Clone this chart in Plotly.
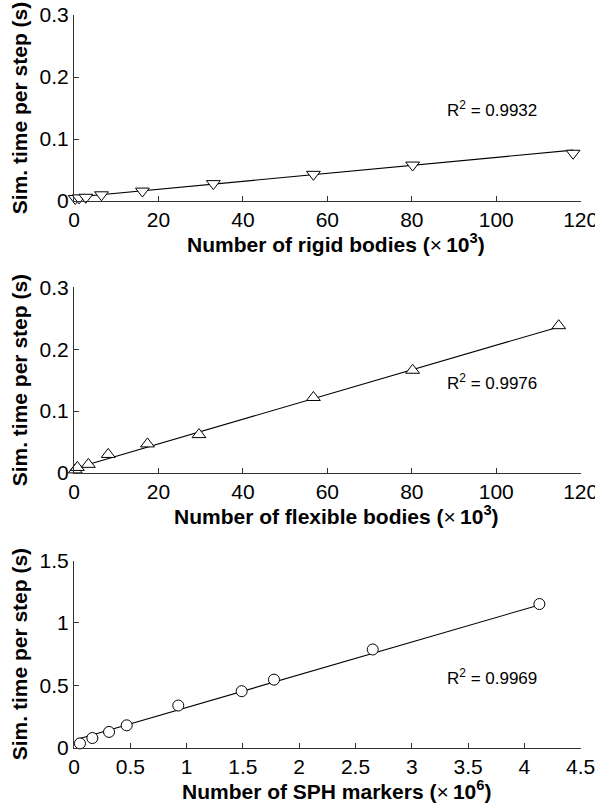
import plotly.graph_objects as go

# ---- data ----
rigid_x = [0.3, 1.2, 2.8, 6.5, 16.2, 33.0, 56.7, 80.2, 118.2]
rigid_y = [0.004, 0.005, 0.006, 0.010, 0.016, 0.028, 0.043, 0.058, 0.077]
rigid_fit_x = [0.0, 118.2]
rigid_fit_y = [0.006, 0.082]
rigid_r2 = "0.9932"

flex_x = [0.3, 0.8, 3.4, 8.1, 17.4, 29.6, 56.7, 80.2, 114.8]
flex_y = [0.005, 0.009, 0.014, 0.030, 0.047, 0.062, 0.122, 0.166, 0.238]
flex_fit_x = [0.5, 114.8]
flex_fit_y = [0.008, 0.236]
flex_r2 = "0.9976"

sph_x = [0.053, 0.163, 0.311, 0.468, 0.926, 1.489, 1.776, 2.653, 4.133]
sph_y = [0.033, 0.076, 0.125, 0.178, 0.337, 0.452, 0.545, 0.787, 1.152]
sph_fit_x = [0.053, 4.133]
sph_fit_y = [0.072, 1.145]
sph_r2 = "0.9969"

x_ticks_bodies = [0, 20, 40, 60, 80, 100, 120]
x_ticks_sph = [0, 0.5, 1, 1.5, 2, 2.5, 3, 3.5, 4, 4.5]
x_ticklabels_sph = ["0", "0.5", "1", "1.5", "2", "2.5", "3", "3.5", "4", "4.5"]
y_ticks_small = [0, 0.1, 0.2, 0.3]
y_ticklabels_small = ["0", "0.1", "0.2", "0.3"]
y_ticks_sph = [0, 0.5, 1, 1.5]
y_ticklabels_sph = ["0", "0.5", "1", "1.5"]

y_title = "<b>Sim. time per step (s)</b>"
x_titles = [
    "<b>Number of rigid bodies (</b>×\u2009<b>10<sup>3</sup>)</b>",
    "<b>Number of flexible bodies (</b>×\u2009<b>10<sup>3</sup>)</b>",
    "<b>Number of SPH markers (</b>×\u2009<b>10<sup>6</sup>)</b>",
]

W, H = 595, 808
FONT = "Liberation Sans, Arial, sans-serif"
AX = "#333333"

panels = [
    dict(x=rigid_x, y=rigid_y, fx=rigid_fit_x, fy=rigid_fit_y, sym="triangle-down",
         r2=rigid_r2, xr=[0, 120], xt=x_ticks_bodies, xtl=[str(v) for v in x_ticks_bodies],
         yr=[0, 0.3], yt=y_ticks_small, ytl=y_ticklabels_small, top=15, bot=201, r2y=109),
    dict(x=flex_x, y=flex_y, fx=flex_fit_x, fy=flex_fit_y, sym="triangle-up",
         r2=flex_r2, xr=[0, 120], xt=x_ticks_bodies, xtl=[str(v) for v in x_ticks_bodies],
         yr=[0, 0.3], yt=y_ticks_small, ytl=y_ticklabels_small, top=287.3, bot=473, r2y=382),
    dict(x=sph_x, y=sph_y, fx=sph_fit_x, fy=sph_fit_y, sym="circle",
         r2=sph_r2, xr=[0, 4.5], xt=x_ticks_sph, xtl=x_ticklabels_sph,
         yr=[0, 1.5], yt=y_ticks_sph, ytl=y_ticklabels_sph, top=560.7, bot=747.5, r2y=677),
]

fig = go.Figure()
layout = dict(
    template="none",
    width=W, height=H, margin=dict(l=0, r=0, t=0, b=0, pad=0),
    paper_bgcolor="white", plot_bgcolor="white", showlegend=False,
    font=dict(family=FONT, color="black"),
    annotations=[],
)
x0, x1 = 74 / W, 580.7 / W
for i, p in enumerate(panels):
    n = "" if i == 0 else str(i + 1)
    xa, ya = "x" + n, "y" + n
    fig.add_trace(go.Scatter(x=p["fx"], y=p["fy"], mode="lines", xaxis=xa, yaxis=ya,
                             line=dict(color="black", width=1.1), hoverinfo="skip"))
    size = 12 if p["sym"] != "circle" else 11
    fig.add_trace(go.Scatter(x=p["x"], y=p["y"], mode="markers", xaxis=xa, yaxis=ya,
                             marker=dict(symbol=p["sym"], size=size, color="white",
                                         line=dict(color="black", width=1)),
                             cliponaxis=False))
    dom_y = [1 - p["bot"] / H, 1 - p["top"] / H]
    layout["xaxis" + n] = dict(
        domain=[x0, x1], range=p["xr"], anchor=ya, tickvals=p["xt"], ticktext=p["xtl"],
        showline=True, linecolor=AX, linewidth=1, ticks="inside", ticklen=5, tickcolor=AX,
        showgrid=False, zeroline=False, automargin=False, ticklabeloverflow="allow",
        tickfont=dict(size=21, family=FONT, color="black"),
        fixedrange=True,
    )
    layout["yaxis" + n] = dict(
        domain=dom_y, range=p["yr"], anchor=xa, tickvals=p["yt"], ticktext=p["ytl"],
        showline=True, linecolor=AX, linewidth=1, ticks="inside", ticklen=5, tickcolor=AX,
        showgrid=False, zeroline=False, automargin=False, ticklabeloverflow="allow",
        tickfont=dict(size=21, family=FONT, color="black"),
        title=dict(text=y_title, font=dict(size=21, family=FONT, color="black"), standoff=6),
        fixedrange=True,
    )
    # x-axis title (placed as text so it can sit where the reference has it)
    layout["annotations"].append(dict(
        xref="paper", yref="paper", x=336 / W, y=1 - (p["bot"] + 42) / H,
        xanchor="center", yanchor="middle", text=x_titles[i], showarrow=False,
        font=dict(size=21, family=FONT, color="black"),
    ))
    layout["annotations"].append(dict(
        xref="paper", yref="paper", x=445 / W, y=1 - p["r2y"] / H, xanchor="left", yanchor="middle",
        text="R<sup>2</sup> = " + p["r2"], showarrow=False,
        font=dict(size=17, family=FONT, color="black"),
    ))

fig.update_layout(**layout)
fig.write_html("out.html", config={"displayModeBar": False},
               post_script="document.body.style.margin='0';")
